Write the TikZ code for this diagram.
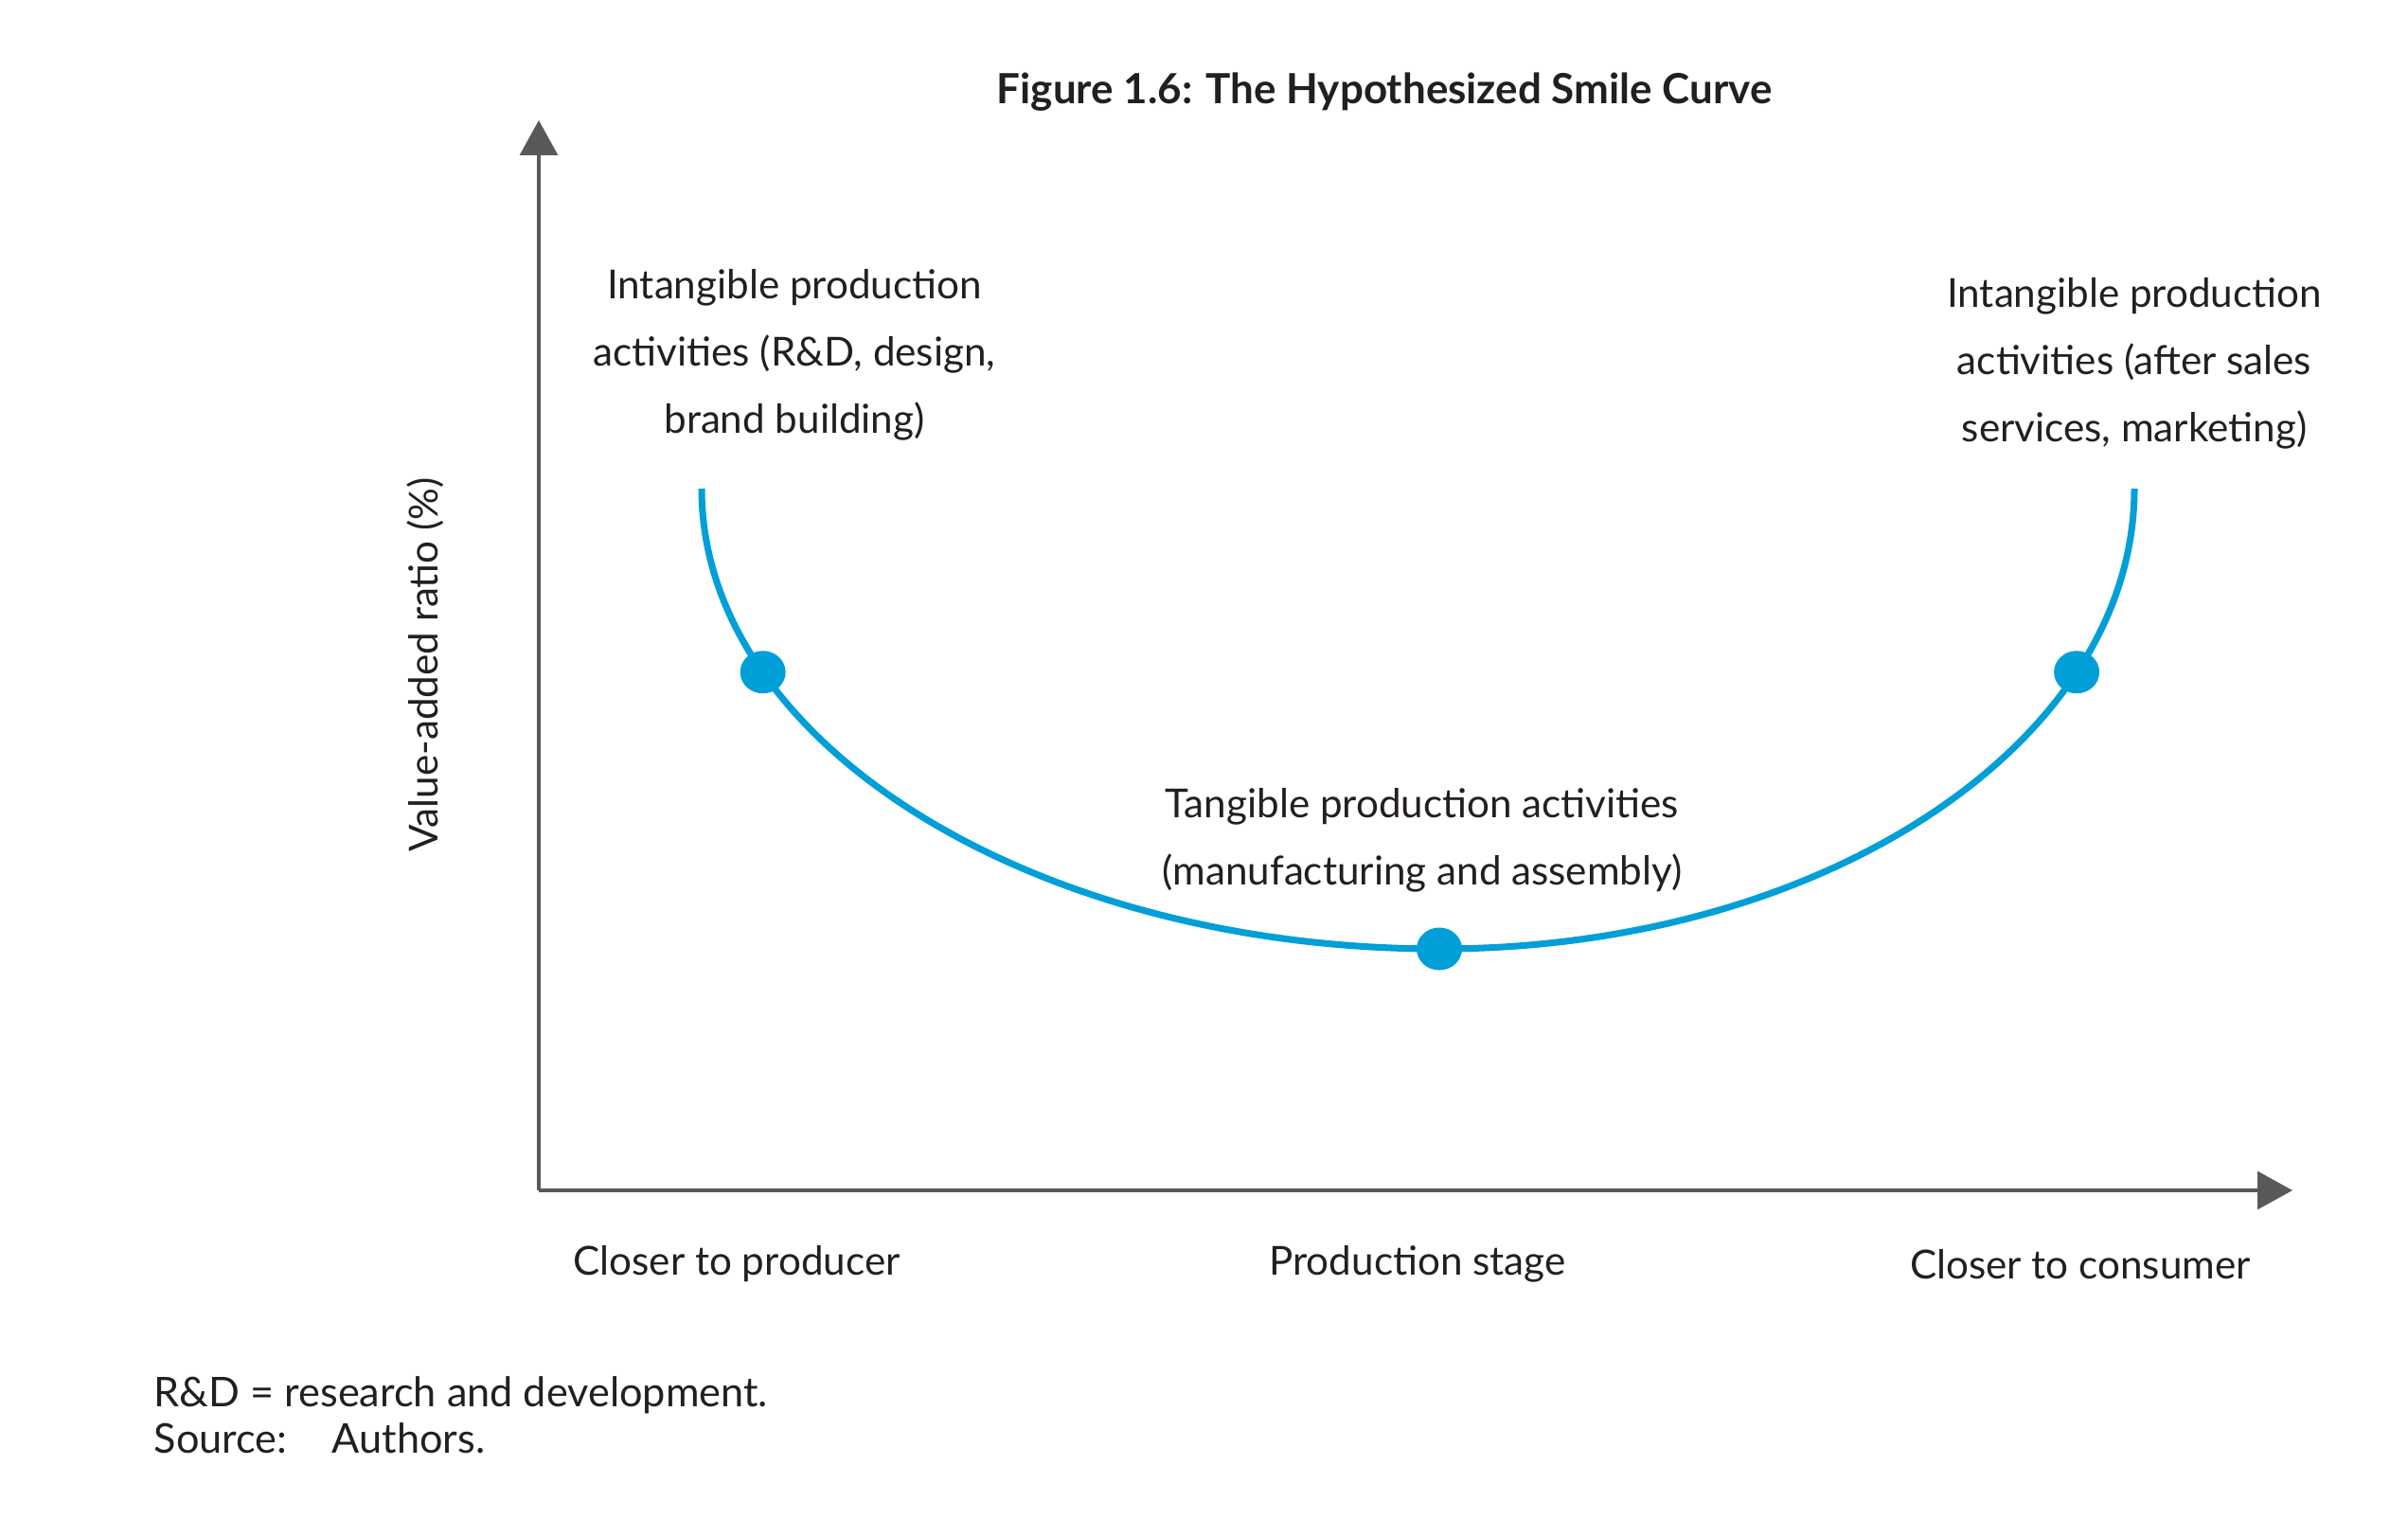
\documentclass[tikz,border=0pt]{standalone}
\usepackage{fontspec}
\setmainfont{Lato}
\usepackage{tikz}
\usetikzlibrary{arrows.meta,calc,shapes.geometric}
\definecolor{SmileBlue}{HTML}{009FD8}
\definecolor{AxisGray}{HTML}{58595B}
\definecolor{InkBlack}{HTML}{231F20}

\begin{document}
\begin{tikzpicture}[
    axis/.style={-{Triangle[length=3.7mm,width=4.0mm]},line width=0.9pt,color=AxisGray},
    smile/.style={line width=2pt,color=SmileBlue},
    stagedot/.style={ellipse,fill=SmileBlue,inner sep=0pt,minimum width=4.8mm,minimum height=4.5mm},
    label/.style={text=InkBlack,align=center,font=\fontsize{12}{20.2}\selectfont},
    title/.style={text=InkBlack,font=\bfseries\fontsize{12.5}{14}\selectfont},
    note/.style={text=InkBlack,anchor=base west,inner sep=0pt,font=\fontsize{12.3}{14}\selectfont}
  ]
    \useasboundingbox (0,0) rectangle (25.43,16.21);

    % axes
    \coordinate (origin) at (5.69,3.64);
    \coordinate (ytip) at (5.69,14.94);
    \coordinate (xtip) at (24.21,3.64);
    \draw[axis] (origin) -- (ytip);
    \draw[axis] (origin) -- (xtip);

    % smile curve: two quarter ellipses
    \coordinate (ctr) at (15.20,11.05);
    \draw[smile] (7.41,11.05) arc[start angle=180,end angle=270,x radius=7.79cm,y radius=4.86cm]
      arc[start angle=270,end angle=360,x radius=7.34cm,y radius=4.86cm];
    \node[stagedot] (dotL) at ($(ctr)+(203.5:7.79cm and 4.86cm)$) {};
    \node[stagedot] (dotM) at ($(ctr)+(270:7.79cm and 4.86cm)$) {};
    \node[stagedot] (dotR) at ($(ctr)+(336.5:7.34cm and 4.86cm)$) {};

    \node[title] (fig) at (14.62,15.24) {Figure 1.6: The Hypothesized Smile Curve};

    \node[label] (upL) at (8.39,12.46) {Intangible production\\activities (R\&D, design,\\brand building)};
    \node[label] (upR) at (22.54,12.37) {Intangible production\\activities (after sales\\services, marketing)};
    \node[label] (low) at (15.02,7.34) {Tangible production activities\\(manufacturing and assembly)};

    \node[label,rotate=90] (ylab) at (4.49,9.19) {Value-added ratio (\%)};
    \node[label] (prod) at (7.78,2.86) {Closer to producer};
    \node[label] (stage) at (14.97,2.86) {Production stage};
    \node[label] (cons) at (21.97,2.86) {Closer to consumer};

    \node[note] (rd) at (1.62,1.36) {R\&D = research and development.};
    \node[note] (src) at (1.62,0.87) {\makebox[1.88cm][l]{Source:}Authors.};
  \end{tikzpicture}
\end{document}
